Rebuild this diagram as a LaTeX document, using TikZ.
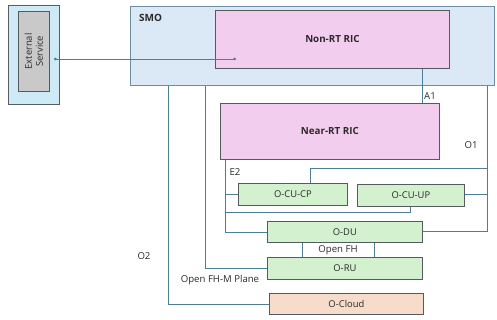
\documentclass[tikz,border=0pt]{standalone}
\usepackage{fontspec}
\setmainfont{Open Sans}
\usetikzlibrary{arrows.meta}
\definecolor{linkc}{HTML}{4E7D96}
\definecolor{smofill}{HTML}{DBE8F5}
\definecolor{smodraw}{HTML}{6E8CA3}
\definecolor{extfill}{HTML}{CFEAF7}
\definecolor{greyfill}{HTML}{C9C9C9}
\definecolor{pinkfill}{HTML}{F3CDEE}
\definecolor{greenfill}{HTML}{D3F0CF}
\definecolor{peachfill}{HTML}{F8DCCB}
\definecolor{boxdraw}{HTML}{555A5E}
\definecolor{txt}{HTML}{2A2A2A}
\begin{document}
\begin{tikzpicture}[x=1pt,y=-1pt,
  every node/.style={text=txt},
  base/.style={anchor=north west,inner sep=0pt,draw=boxdraw,line width=0.8pt},
  ricbox/.style={base,fill=pinkfill,font=\fontsize{9.8}{11}\selectfont\bfseries},
  nfbox/.style={base,fill=greenfill,font=\fontsize{9.4}{11}\selectfont},
  cloudbox/.style={base,fill=peachfill,font=\fontsize{9.4}{11}\selectfont},
  lbl/.style={inner sep=0pt,font=\fontsize{9.6}{11}\selectfont},
  link/.style={draw=linkc,line width=0.75pt}]
\useasboundingbox (0,0) rectangle (497,320);

% External service
\node[base,fill=extfill,draw=boxdraw!90!linkc,minimum width=51pt,minimum height=99pt] (ext) at (8,5) {};
\node[base,fill=greyfill,minimum width=31pt,minimum height=80pt] (extin) at (18,11) {};
\node[rotate=90,align=center,inner sep=0pt,font=\fontsize{9.4}{11}\selectfont] (extlbl) at (extin.center) {External\\Service};

% SMO frame
\node[base,fill=smofill,draw=smodraw,minimum width=364pt,minimum height=79pt] (smo) at (130,6) {};
\node[anchor=west,inner sep=0pt,font=\fontsize{10}{11}\selectfont\bfseries] (smolbl) at (139,18) {SMO};

% Network functions
\node[ricbox,minimum width=234pt,minimum height=58pt] (nonrt) at (215,10) {Non-RT RIC};
\node[ricbox,minimum width=219pt,minimum height=56pt] (nearrt) at (220,103) {Near-RT RIC};
\node[nfbox,minimum width=109pt,minimum height=22pt] (ocucp) at (238,183) {O-CU-CP};
\node[nfbox,minimum width=107pt,minimum height=22pt] (ocuup) at (357,184) {O-CU-UP};
\node[nfbox,minimum width=155pt,minimum height=21pt] (odu) at (267,221) {O-DU};
\node[nfbox,minimum width=155pt,minimum height=22pt] (oru) at (267,257) {O-RU};
\node[cloudbox,minimum width=154pt,minimum height=21pt] (ocloud) at (269,293) {O-Cloud};

% Helper coordinates for the interface lines
\coordinate (extpt) at (54,59);
\coordinate (nonrtpt) at (236,59);
\coordinate (a1x) at (422,0);
\coordinate (o1x) at (487,0);
\coordinate (o1y) at (0,231);
\coordinate (upy) at (0,194);
\coordinate (cpy) at (0,168);
\coordinate (cpx) at (310,0);
\coordinate (e2x) at (225,0);
\coordinate (e2up) at (0,212);
\coordinate (upx) at (410,0);
\coordinate (fhx1) at (302,0);
\coordinate (fhx2) at (374,0);
\coordinate (fhmx) at (205,0);
\coordinate (o2x) at (168,0);

% External service link
\draw[link,{Circle[length=2.6pt]}-{Circle[length=2.6pt]}] (extpt) -- (nonrtpt);

% A1
\draw[link] (nonrt.south -| a1x) -- (nearrt.north -| a1x);
\node[lbl] (a1) at (430,96) {A1};

% O1
\draw[link] (smo.south -| o1x) -- (o1x |- o1y) -- (odu.east |- o1y);
\draw[link] (o1x |- upy) -- (ocuup.east |- upy);
\draw[link] (o1x |- cpy) -- (cpx |- cpy) -- (ocucp.north -| cpx);
\node[lbl] (o1) at (471,145) {O1};

% E2
\draw[link] (nearrt.south -| e2x) -- (e2x |- odu.west) -- (odu.west);
\draw[link] (e2x |- ocucp.west) -- (ocucp.west);
\draw[link] (e2x |- e2up) -- (upx |- e2up) -- (ocuup.south -| upx);
\node[lbl] (e2) at (235,172) {E2};

% Open FH
\draw[link] (odu.south -| fhx1) -- (oru.north -| fhx1);
\draw[link] (odu.south -| fhx2) -- (oru.north -| fhx2);
\node[lbl] (fh) at (338,250) {Open FH};

% Open FH-M Plane
\draw[link] (smo.south -| fhmx) -- (fhmx |- oru.west) -- (oru.west);
\node[lbl] (fhm) at (220,280) {Open FH-M Plane};

% O2
\draw[link] (smo.south -| o2x) -- (o2x |- ocloud.west) -- (ocloud.west);
\node[lbl] (o2) at (144,256) {O2};
\end{tikzpicture}
\end{document}
